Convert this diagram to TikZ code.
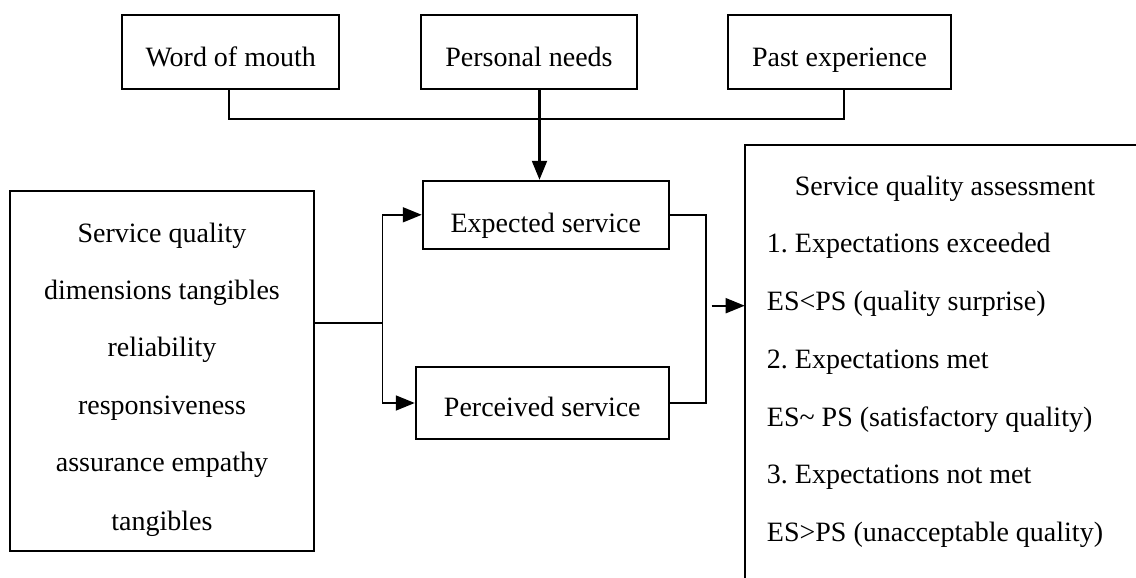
\documentclass[tikz,border=0pt]{standalone}
\usepackage{fontspec}
\setmainfont{Liberation Serif}
\usetikzlibrary{arrows.meta}
\frenchspacing

\begin{document}
\begin{tikzpicture}[x=1pt,y=-1pt,
  line width=1.8pt,
  every node/.style={font=\fontsize{28}{34}\selectfont},
  box/.style={draw, inner sep=0pt, minimum height=74pt, text depth=0pt},
  txt/.style={anchor=base, inner sep=0pt},
  ltxt/.style={anchor=base west, inner sep=0pt},
  arr/.style={-{Triangle[length=19pt,width=15pt]}}]
\useasboundingbox (0,0) rectangle (1136,578);

% sources of expectation
\node[box, minimum width=216.7pt, text height=28.8pt] (wom)  at (230.7,52.3) {Word of mouth};
\node[box, minimum width=216.6pt, text height=28.8pt] (pn)   at (529,52.3)   {Personal needs};
\node[box, minimum width=222.4pt, text height=28.8pt] (past) at (839.5,52.3) {Past experience};

% expected / perceived service
\node[box, minimum width=246.3pt, minimum height=68.3pt, text height=35pt] (exp) at (545.8,214.8) {Expected service};
\node[box, minimum width=253.3pt, minimum height=72.6pt, text height=27.4pt] (per) at (542.3,403) {Perceived service};

% service quality dimensions
\node[draw, inner sep=0pt, minimum width=304pt, minimum height=360pt] (dims) at (162,371) {};
\node[txt] (d1) at (162,242)   {Service quality};
\node[txt] (d2) at (162,299)   {dimensions tangibles};
\node[txt] (d3) at (162,356.7) {reliability};
\node[txt] (d4) at (162,414)   {responsiveness};
\node[txt] (d5) at (162,471.7) {assurance empathy};
\node[txt] (d6) at (162,530)   {tangibles};

% assessment panel (open on the right and at the bottom)
\node[inner sep=0pt, minimum width=420pt, minimum height=460pt, anchor=north west] (sqa) at (744.7,145) {};
\draw (sqa.south west) -- (sqa.north west) -- (sqa.north east);
\node[txt] (s0) at (945,195) {Service quality assessment};
\node[ltxt] (s1) at (766,252.7) {1. Expectations exceeded};
\node[ltxt] (s2) at (766,310.7) {ES<PS (quality surprise)};
\node[ltxt] (s3) at (766,368)   {2. Expectations met};
\node[ltxt] (s4) at (766,426)   {ES\char"007E{} PS (satisfactory quality)};
\node[ltxt] (s5) at (766,483.5) {3. Expectations not met};
\node[ltxt] (s6) at (766,541.7) {ES>PS (unacceptable quality)};

% joining lines
\coordinate (jw) at (229.3,119.3);
\coordinate (jp) at (844.3,119.3);
\coordinate (jn) at (539.5,119.3);
\draw (wom.south -| jw) -- (jw) -- (jp) -- (past.south -| jp);
\draw[arr, line width=2.2pt] (pn.south -| jn) -- (exp.north -| jn);

\coordinate (fork) at (382.5,323.3);
\draw (dims.east |- fork) -- (fork);
\draw[arr] (fork) |- (exp.west);
\draw[arr] (fork) |- (per.west);

\coordinate (merge) at (705.7,305.7);
\draw (exp.east) -| (merge) |- (per.east);
\coordinate (out) at (711.7,305.7);
\draw[arr] (out) -- (out -| sqa.west);
\end{tikzpicture}
\end{document}
